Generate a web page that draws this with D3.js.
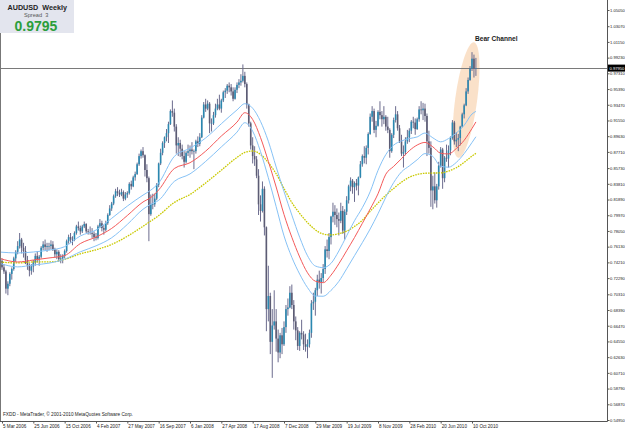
<!DOCTYPE html>
<html>
<head>
<meta charset="utf-8">
<script src="https://cdn.jsdelivr.net/npm/d3@7"></script>
<style>
  body { margin: 0; background: #fff; }
  svg { display: block; font-family: "Liberation Sans", Arial, sans-serif; }
</style>
</head>
<body>
<script>
// AUDUSD weekly bars, first bar is the week of 5 Mar 2006
const firstWeek = "2006-03-05";
const firstOpen = 0.7440;

const weeklyHigh = [
  .7470,.7400,.7330,.7190,.7300,.7360,.7490,.7570,.7680,.7780,
  .7720,.7660,.7620,.7500,.7410,.7400,.7450,.7530,.7560,.7510,
  .7620,.7680,.7700,.7660,.7660,.7690,.7680,.7600,.7580,.7570,
  .7520,.7520,.7580,.7700,.7760,.7780,.7740,.7800,.7880,.7920,
  .7870,.7880,.7920,.7900,.7830,.7860,.7840,.7800,.7780,.7880,
  .7950,.7930,.7880,.7930,.8020,.8120,.8160,.8250,.8320,.8340,
  .8310,.8320,.8300,.8280,.8290,.8400,.8420,.8480,.8530,.8640,
  .8750,.8800,.8830,.8740,.8620,.8470,.8250,.8260,.8260,.8390,
  .8640,.8810,.8900,.8960,.9050,.9140,.9290,.9400,.9300,.9110,
  .8950,.8920,.8860,.8780,.8780,.8860,.8850,.8890,.8800,.8920,
  .8960,.9000,.9220,.9380,.9420,.9400,.9380,.9180,.9260,.9360,
  .9420,.9470,.9420,.9520,.9550,.9600,.9620,.9600,.9560,.9560,
  .9620,.9660,.9720,.9840,.9750,.9620,.9360,.9140,.8950,.8840,
  .8720,.8560,.8240,.8410,.8350,.7860,.7380,.7050,.6850,.7080,
  .6850,.6600,.6560,.6620,.6700,.6900,.6980,.7130,.7150,.6960,
  .6760,.6630,.6580,.6720,.6580,.6550,.6480,.6600,.6960,.7050,
  .7110,.7270,.7320,.7290,.7400,.7620,.7700,.7780,.7990,.8150,
  .8120,.8080,.8030,.8150,.8110,.8070,.8230,.8370,.8460,.8440,
  .8410,.8440,.8470,.8660,.8740,.8840,.8850,.9010,.9240,.9330,
  .9300,.9150,.9280,.9390,.9270,.9330,.9220,.9200,.9060,.9000,
  .9190,.9330,.9270,.9100,.8980,.8850,.8950,.9040,.9060,.9160,
  .9200,.9180,.9190,.9330,.9390,.9370,.9360,.9240,.9030,.8900,
  .8480,.8520,.8380,.8650,.8830,.8820,.8720,.8860,.8850,.8960,
  .9160,.9150,.9010,.8990,.9090,.9250,.9360,.9550,.9680,.9820,
  .9990,.9960,.9920
];

const weeklyLow = [
  .7330,.7280,.7040,.7020,.7130,.7210,.7320,.7430,.7520,.7590,
  .7530,.7480,.7400,.7330,.7250,.7270,.7300,.7380,.7420,.7380,
  .7470,.7570,.7570,.7550,.7570,.7580,.7560,.7480,.7460,.7430,
  .7410,.7410,.7470,.7540,.7650,.7660,.7630,.7680,.7760,.7810,
  .7760,.7780,.7840,.7780,.7760,.7760,.7720,.7680,.7690,.7700,
  .7840,.7800,.7760,.7800,.7880,.7990,.8050,.8120,.8210,.8230,
  .8220,.8230,.8170,.8180,.8210,.8250,.8310,.8340,.8420,.8490,
  .8600,.8690,.8700,.8470,.8400,.7680,.7990,.8070,.8100,.8180,
  .8340,.8610,.8730,.8820,.8900,.8880,.9100,.9200,.9020,.8750,
  .8720,.8710,.8680,.8580,.8630,.8720,.8700,.8740,.8560,.8750,
  .8830,.8840,.8940,.9180,.9260,.9280,.9000,.9020,.9100,.9190,
  .9280,.9280,.9250,.9380,.9430,.9480,.9500,.9460,.9390,.9410,
  .9490,.9550,.9580,.9620,.9560,.9300,.9080,.8800,.8630,.8600,
  .8450,.8000,.7920,.8030,.7750,.6580,.6700,.6300,.6010,.6600,
  .6330,.6200,.6250,.6300,.6400,.6560,.6770,.6860,.6850,.6600,
  .6470,.6350,.6340,.6480,.6350,.6330,.6250,.6380,.6500,.6840,
  .6770,.7010,.7100,.7040,.7180,.7280,.7480,.7460,.7640,.7910,
  .7880,.7850,.7750,.7900,.7770,.7700,.8000,.8140,.8290,.8260,
  .8160,.8300,.8240,.8450,.8590,.8630,.8620,.8740,.8980,.9140,
  .9000,.8950,.9080,.9170,.9080,.9110,.9030,.9000,.8700,.8760,
  .8940,.9130,.9030,.8880,.8720,.8580,.8730,.8870,.8890,.8990,
  .9060,.8980,.9040,.9140,.9230,.9160,.9140,.8720,.8750,.8100,
  .8070,.8140,.8090,.8310,.8580,.8320,.8400,.8650,.8580,.8730,
  .8920,.8860,.8830,.8780,.8850,.9070,.9180,.9330,.9480,.9640,
  .9760,.9680,.9700
];

const weeklyClose = [
  .7360,.7310,.7100,.7160,.7280,.7340,.7470,.7550,.7620,.7700,
  .7600,.7560,.7450,.7380,.7320,.7370,.7420,.7500,.7460,.7490,
  .7600,.7640,.7610,.7620,.7620,.7640,.7580,.7520,.7550,.7460,
  .7470,.7500,.7560,.7680,.7730,.7700,.7700,.7780,.7860,.7840,
  .7800,.7860,.7890,.7800,.7790,.7780,.7770,.7730,.7720,.7860,
  .7900,.7840,.7820,.7900,.8000,.8080,.8140,.8230,.8290,.8270,
  .8250,.8280,.8200,.8250,.8270,.8380,.8350,.8460,.8500,.8620,
  .8720,.8780,.8730,.8550,.8450,.8010,.8130,.8130,.8200,.8370,
  .8630,.8760,.8880,.8950,.9000,.9110,.9270,.9250,.9080,.8850,
  .8880,.8810,.8720,.8650,.8760,.8780,.8800,.8780,.8780,.8900,
  .8870,.8950,.9190,.9350,.9300,.9360,.9120,.9120,.9220,.9300,
  .9350,.9300,.9400,.9500,.9520,.9580,.9560,.9510,.9420,.9530,
  .9590,.9620,.9640,.9700,.9600,.9350,.9120,.8850,.8720,.8680,
  .8480,.8130,.8050,.8320,.7850,.6850,.7010,.6450,.6650,.6700,
  .6490,.6320,.6530,.6420,.6630,.6850,.6870,.7050,.6900,.6700,
  .6590,.6400,.6560,.6540,.6420,.6390,.6420,.6560,.6920,.6940,
  .7080,.7210,.7180,.7230,.7340,.7580,.7560,.7730,.7980,.8040,
  .8000,.7950,.7930,.8050,.7810,.8040,.8180,.8350,.8420,.8340,
  .8390,.8360,.8460,.8620,.8720,.8700,.8820,.8990,.9200,.9270,
  .9040,.9090,.9260,.9220,.9170,.9200,.9080,.9040,.8780,.8980,
  .9160,.9230,.9060,.8900,.8750,.8770,.8900,.8950,.9030,.9140,
  .9130,.9050,.9170,.9290,.9280,.9300,.9210,.8900,.8820,.8300,
  .8350,.8180,.8350,.8600,.8800,.8450,.8700,.8690,.8790,.8940,
  .9130,.8900,.8920,.8940,.9080,.9230,.9340,.9510,.9650,.9790,
  .9910,.9790,.9795
];

// indicator lines every few weeks (week number counted from firstWeek)
const maWeeks = [-1,8,16,24,32,40,48,56,64,72,76,80,88,96,104,112,120,124,128,132,
  136,140,144,148,152,156,160,164,168,172,176,180,184,188,192,196,200,204,208,212,
  216,220,224,228,232,236,240,242];
const maUpper = [.7547,.7536,.7548,.7571,.7613,.7744,.7816,.7959,.8109,.8243,
  .8304,.8391,.8716,.8816,.8941,.9115,.9284,.9360,.9305,.9144,
  .8901,.8587,.8287,.7999,.7728,.7502,.7377,.7357,.7409,.7560,
  .7746,.7930,.8089,.8285,.8545,.8738,.8854,.8905,.8934,.8954,
  .9002,.8943,.8894,.8934,.9002,.9097,.9234,.9266];
const maMid = [.7469,.7426,.7450,.7475,.7505,.7651,.7731,.7836,.7994,.8159,
  .8214,.8306,.8568,.8639,.8780,.8965,.9135,.9250,.9167,.8947,
  .8656,.8342,.8006,.7728,.7487,.7294,.7191,.7173,.7265,.7404,
  .7563,.7725,.7898,.8073,.8259,.8499,.8594,.8689,.8786,.8855,
  .8887,.8833,.8755,.8746,.8813,.8913,.9057,.9137];
const maLower = [.7408,.7366,.7389,.7412,.7460,.7550,.7623,.7722,.7885,.8070,
  .8132,.8179,.8411,.8502,.8655,.8832,.9013,.9128,.9024,.8775,
  .8455,.8102,.7745,.7483,.7278,.7113,.7010,.7007,.7079,.7189,
  .7343,.7503,.7662,.7829,.8015,.8218,.8396,.8527,.8600,.8675,
  .8750,.8715,.8596,.8584,.8643,.8750,.8886,.8956];
const maSlow = [.7425,.7414,.7426,.7426,.7458,.7525,.7575,.7640,.7740,.7862,
  .7926,.7993,.8154,.8251,.8392,.8548,.8704,.8765,.8782,.8741,
  .8639,.8504,.8324,.8153,.8020,.7907,.7819,.7768,.7756,.7772,
  .7803,.7861,.7935,.8045,.8146,.8242,.8325,.8402,.8461,.8496,
  .8510,.8513,.8514,.8537,.8578,.8643,.8720,.8753];

const priceLabels = [1.05050,1.03070,1.01150,0.99230,0.97310,0.95390,0.93470,0.91550,0.89630,
  0.87710,0.85730,0.83810,0.81890,0.79970,0.78050,0.76130,0.74210,0.72290,0.70310,
  0.68390,0.66470,0.64550,0.62630,0.60710,0.58790,0.56870,0.54950];
const dateLabels = ["5 Mar 2006","25 Jun 2006","15 Oct 2006","4 Feb 2007","27 May 2007",
  "16 Sep 2007","6 Jan 2008","27 Apr 2008","17 Aug 2008","7 Dec 2008","29 Mar 2009",
  "19 Jul 2009","8 Nov 2009","28 Feb 2010","20 Jun 2010","10 Oct 2010"];

const symbol = "AUDUSD", period = "Weekly", spread = 3;
const lastPrice = 0.9795;
// the highlighted rally, drawn as a tilted ellipse between these two points
const channelEnds = [["2010-08-22", 0.870], ["2010-10-17", 1.011]];

const W = 625, H = 429, plotR = 607, plotB = 421;

const parseDay = d3.timeParse("%Y-%m-%d");
const parseLabel = d3.timeParse("%d %b %Y");
const start = parseDay(firstWeek);

const x = d3.scaleTime()
  .domain([start, parseLabel("10 Oct 2010")])
  .range([2, 472]);
const y = d3.scaleLinear()
  .domain([0.5495, 1.0505])
  .range([420, 10]);

// FX weekly bars open at the previous close
const bars = weeklyClose.map((c, i) => ({
  date: d3.timeWeek.offset(start, i),
  open: i === 0 ? firstOpen : weeklyClose[i - 1],
  high: weeklyHigh[i],
  low: weeklyLow[i],
  close: c
}));

const svg = d3.select("body").append("svg")
  .attr("width", W)
  .attr("height", H);

svg.append("defs").append("clipPath").attr("id", "plot")
  .append("rect").attr("x", 0).attr("y", 0).attr("width", plotR).attr("height", plotB);

const plot = svg.append("g").attr("clip-path", "url(#plot)");

// peach highlight behind the last leg up
const p0 = [x(parseDay(channelEnds[0][0])), y(channelEnds[0][1])];
const p1 = [x(parseDay(channelEnds[1][0])), y(channelEnds[1][1])];
const angle = Math.atan2(p1[0] - p0[0], p0[1] - p1[1]) * 180 / Math.PI;
plot.append("ellipse")
  .attr("cx", 0).attr("cy", 0)
  .attr("rx", 11)
  .attr("ry", Math.hypot(p1[0] - p0[0], p1[1] - p0[1]) / 2)
  .attr("transform", `translate(${(p0[0] + p1[0]) / 2},${(p0[1] + p1[1]) / 2}) rotate(${angle})`)
  .attr("fill", "#f9dcbf")
  .attr("opacity", 0.85);

// current price line
plot.append("line")
  .attr("x1", 0).attr("x2", plotR)
  .attr("y1", Math.round(y(lastPrice)) + 0.5).attr("y2", Math.round(y(lastPrice)) + 0.5)
  .attr("stroke", "#7a7a7a").attr("stroke-width", 1);

// candles
const candle = plot.append("g").selectAll("g")
  .data(bars)
  .join("g");

candle.append("line")
  .attr("x1", d => x(d.date)).attr("x2", d => x(d.date))
  .attr("y1", d => y(d.high)).attr("y2", d => y(d.low))
  .attr("stroke", "#6c6c8e").attr("stroke-width", 1);

candle.append("rect")
  .attr("x", d => x(d.date) - 0.8)
  .attr("width", 1.6)
  .attr("y", d => y(Math.max(d.open, d.close)))
  .attr("height", d => Math.max(0.6, Math.abs(y(d.open) - y(d.close))))
  .attr("fill", d => d.close >= d.open ? "#2a88b0" : "#5c5c74");

// indicator lines
const maPoints = vals => vals.map((v, i) => [d3.timeWeek.offset(start, maWeeks[i]), v]);
const line = d3.line()
  .x(d => x(d[0]))
  .y(d => y(d[1]))
  .curve(d3.curveMonotoneX);

plot.append("path").datum(maPoints(maSlow))
  .attr("d", line).attr("fill", "none")
  .attr("stroke", "#c9c900").attr("stroke-width", 1.3).attr("stroke-dasharray", "1.6,1");
[maUpper, maLower].forEach(vals => {
  plot.append("path").datum(maPoints(vals))
    .attr("d", line).attr("fill", "none")
    .attr("stroke", "#86c2f6").attr("stroke-width", 1);
});
plot.append("path").datum(maPoints(maMid))
  .attr("d", line).attr("fill", "none")
  .attr("stroke", "#f45a5a").attr("stroke-width", 1);

// annotation
svg.append("text")
  .attr("x", 475).attr("y", 40.5)
  .attr("font-size", 6.6).attr("font-weight", "bold").attr("fill", "#222")
  .text("Bear Channel");

// frame lines
svg.append("line").attr("x1", 0.5).attr("x2", 0.5).attr("y1", 33).attr("y2", plotB)
  .attr("stroke", "#777");
svg.append("line").attr("x1", plotR + 0.5).attr("x2", plotR + 0.5).attr("y1", 0).attr("y2", plotB + 0.5)
  .attr("stroke", "#555");
svg.append("line").attr("x1", 0).attr("x2", plotR + 0.5).attr("y1", plotB + 0.5).attr("y2", plotB + 0.5)
  .attr("stroke", "#555");

// price axis
const yAxis = svg.append("g")
  .attr("transform", `translate(${plotR + 0.5},0)`)
  .call(d3.axisRight(y).tickValues(priceLabels).tickFormat(d3.format(".5f")).tickSize(2).tickPadding(0.5));
yAxis.select(".domain").remove();
yAxis.selectAll("line").attr("stroke", "#555");
yAxis.selectAll("text").attr("font-size", 4.1).attr("fill", "#222")
  .attr("font-family", "Liberation Sans, Arial, sans-serif");

// bid box on the price axis
const bidY = y(lastPrice);
svg.append("rect")
  .attr("x", plotR + 1).attr("y", bidY - 3.5).attr("width", W - plotR - 1).attr("height", 7)
  .attr("fill", "#000");
svg.append("text")
  .attr("x", plotR + 2.5).attr("y", bidY + 1.5)
  .attr("font-size", 4.1).attr("fill", "#fff")
  .text(d3.format(".5f")(lastPrice));

// time axis
const xAxis = svg.append("g")
  .attr("transform", `translate(0,${plotB + 0.5})`)
  .call(d3.axisBottom(x).tickValues(dateLabels.map(parseLabel))
    .tickFormat(d3.timeFormat("%-d %b %Y")).tickSize(2).tickPadding(1));
xAxis.select(".domain").remove();
xAxis.selectAll("line").attr("stroke", "#555");
xAxis.selectAll("text").attr("font-size", 4.6).attr("fill", "#222")
  .attr("text-anchor", "start").attr("dx", 0.5)
  .attr("font-family", "Liberation Sans, Arial, sans-serif");

svg.append("text")
  .attr("x", 3).attr("y", 416)
  .attr("font-size", 4.7).attr("fill", "#222")
  .text("FXDD - MetaTrader, \u00a9 2001-2010 MetaQuotes Software Corp.");

// symbol box, top left
const box = svg.append("g");
box.append("rect")
  .attr("x", 0).attr("y", 0).attr("width", 74).attr("height", 33)
  .attr("fill", "#e3e5ee");
box.append("text")
  .attr("x", 7.5).attr("y", 9.5)
  .attr("font-size", 7.2).attr("font-weight", "bold").attr("fill", "#222")
  .style("white-space", "pre")
  .text(`${symbol}  ${period}`);
box.append("text")
  .attr("x", 24).attr("y", 17)
  .attr("font-size", 5.6).attr("fill", "#555")
  .style("white-space", "pre")
  .text(`Spread  ${spread}`);
box.append("text")
  .attr("x", 14.5).attr("y", 31.3)
  .attr("font-size", 14).attr("font-weight", "bold").attr("fill", "#2b9e3b")
  .text(d3.format(".4f")(lastPrice));
</script>
</body>
</html>
